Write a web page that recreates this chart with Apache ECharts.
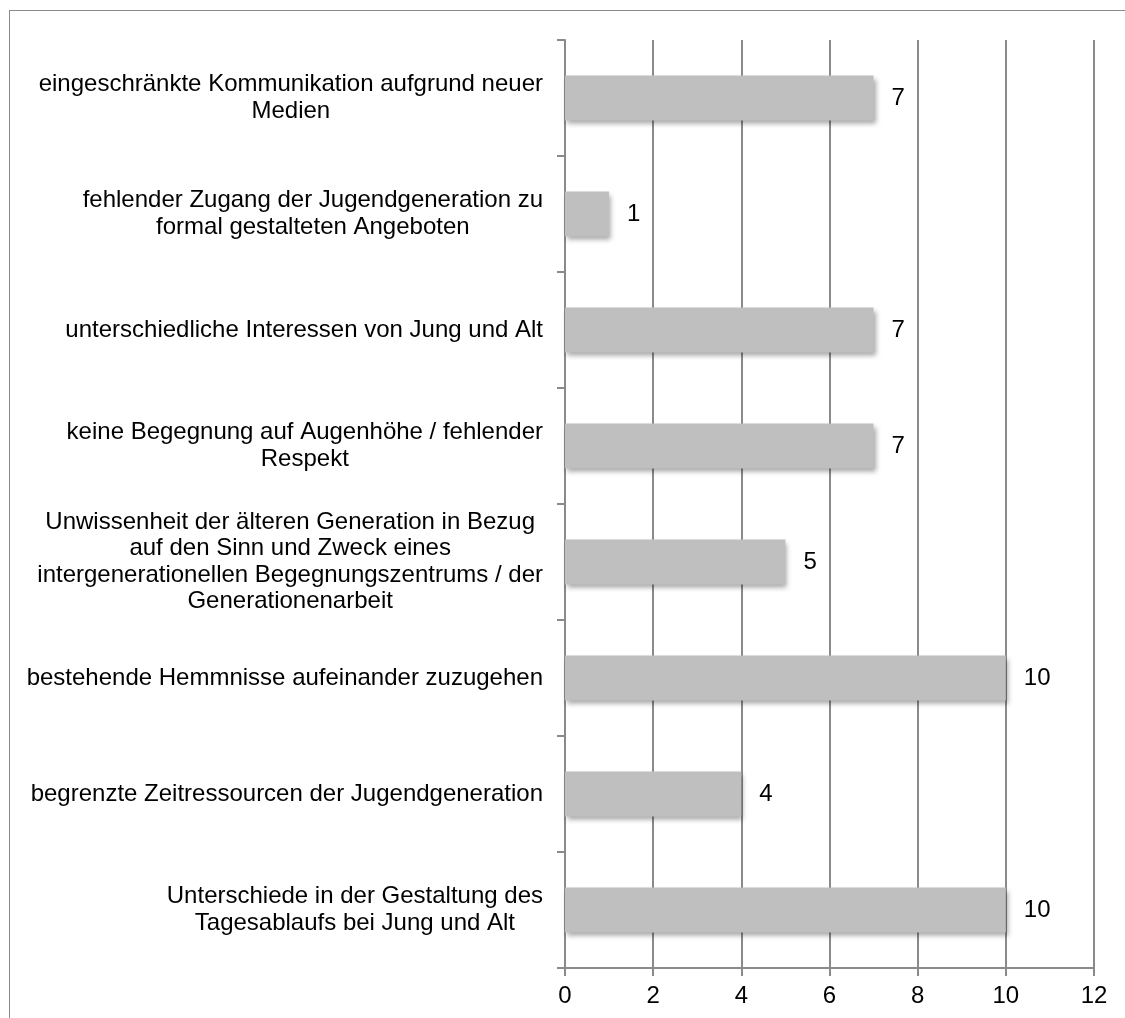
<!DOCTYPE html>
<html>
<head>
<meta charset="utf-8">
<script src="https://cdn.jsdelivr.net/npm/echarts@6/dist/echarts.min.js"></script>
<style>
  html, body { margin: 0; padding: 0; background: #fff; overflow: hidden; }
  #chart { position: absolute; left: 0; top: 0; width: 1125px; height: 1018px; }
  #frame { position: absolute; left: 9px; top: 10px; width: 1300px; height: 1300px;
           border-left: 1.5px solid #8a8a8a; border-top: 1.5px solid #8a8a8a; pointer-events: none; }
</style>
</head>
<body>
<div id="chart"></div>
<div id="frame"></div>
<script>
const categories = [
  "eingeschränkte Kommunikation aufgrund neuer\nMedien",
  "fehlender Zugang der Jugendgeneration zu\nformal gestalteten Angeboten",
  "unterschiedliche Interessen von Jung und Alt",
  "keine Begegnung auf Augenhöhe / fehlender\nRespekt",
  "Unwissenheit der älteren Generation in Bezug\nauf den Sinn und Zweck eines\nintergenerationellen Begegnungszentrums / der\nGenerationenarbeit",
  "bestehende Hemmnisse aufeinander zuzugehen",
  "begrenzte Zeitressourcen der Jugendgeneration",
  "Unterschiede in der Gestaltung des\nTagesablaufs bei Jung und Alt"
];
const values = [7, 1, 7, 7, 5, 10, 4, 10];
const xMin = 0, xMax = 12, xStep = 2;

const FONT = '"Liberation Sans", Arial, sans-serif';
const GRID_COLOR = '#8a8a8a';
const FS = 24;

const chart = echarts.init(document.getElementById('chart'), null, { renderer: 'canvas' });
chart.setOption({
  backgroundColor: 'transparent',
  animation: false,
  grid: { left: 565, right: 31, top: 40, bottom: 50, containLabel: false },
  xAxis: {
    type: 'value',
    min: xMin, max: xMax, interval: xStep,
    axisLine: { show: true, lineStyle: { color: GRID_COLOR, width: 2 } },
    axisTick: { show: true, length: 8, lineStyle: { color: GRID_COLOR, width: 2 } },
    splitLine: { show: true, lineStyle: { color: GRID_COLOR, width: 2 } },
    axisLabel: { fontSize: FS, color: '#000', fontFamily: FONT, margin: 16 }
  },
  yAxis: {
    type: 'category',
    inverse: true,
    data: categories,
    axisLine: { show: true, lineStyle: { color: GRID_COLOR, width: 2 } },
    axisTick: { show: true, length: 8, lineStyle: { color: GRID_COLOR, width: 2 } },
    splitLine: { show: false },
    axisLabel: {
      margin: 22,
      align: 'right',
      fontSize: FS,
      lineHeight: 26.5,
      color: '#000',
      fontFamily: FONT,
      formatter: function (v) {
        return v.split('\n').map(function (l) { return '{c|' + l + '}'; }).join('\n');
      },
      rich: {
        c: { align: 'center', fontSize: FS, lineHeight: 26.5, color: '#000', fontFamily: FONT }
      }
    }
  },
  series: [{
    type: 'bar',
    data: values,
    barWidth: 45,
    itemStyle: {
      color: '#bfbfbf',
      shadowBlur: 5,
      shadowOffsetX: 2,
      shadowOffsetY: 3,
      shadowColor: 'rgba(0,0,0,0.35)'
    },
    label: {
      show: true,
      position: 'right',
      distance: 18,
      fontSize: FS,
      color: '#000',
      fontFamily: FONT
    }
  }]
});
</script>
</body>
</html>
